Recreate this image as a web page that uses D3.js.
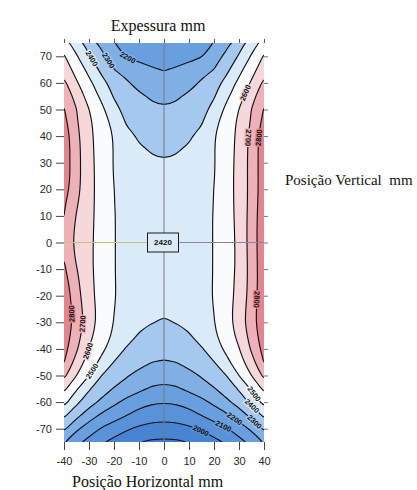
<!DOCTYPE html>
<html>
<head>
<meta charset="utf-8">
<script src="https://cdn.jsdelivr.net/npm/d3@7"></script>
<style>
  body { margin: 0; background: #ffffff; }
  svg { display: block; }
</style>
</head>
<body>
<svg id="chart" width="417" height="490"></svg>
<script>
// Sampling positions of the thickness map (mm)
const xValues = [-40, -35, -30, -25, -20, -15, -10, -5, 0, 5, 10, 15, 20, 25, 30, 35, 40];
const yValues = [75, 70, 65, 60, 55, 50, 45, 40, 35, 30, 25, 20, 15, 10, 5, 0,
                 -5, -10, -15, -20, -25, -30, -35, -40, -45, -50, -55, -60, -65, -70, -75];

// Thickness readings, one row per vertical position (top to bottom), left to right
const thicknessRows = [
  [2543,2449,2356,2271,2201,2160,2130,2115,2110,2115,2130,2160,2201,2271,2356,2449,2543],
  [2610,2510,2410,2325,2256,2195,2168,2155,2150,2155,2168,2195,2256,2325,2410,2510,2610],
  [2655,2564,2470,2377,2301,2271,2241,2212,2195,2212,2241,2271,2301,2377,2470,2564,2655],
  [2722,2611,2525,2430,2363,2311,2270,2245,2235,2245,2270,2311,2363,2430,2525,2611,2722],
  [2778,2662,2562,2480,2392,2354,2315,2290,2280,2290,2315,2354,2392,2480,2562,2662,2778],
  [2805,2701,2601,2523,2430,2370,2337,2315,2308,2315,2337,2370,2430,2523,2601,2701,2805],
  [2831,2712,2618,2547,2473,2393,2366,2350,2345,2350,2366,2393,2473,2547,2618,2712,2831],
  [2855,2726,2623,2554,2493,2427,2389,2376,2372,2376,2389,2427,2493,2554,2623,2726,2855],
  [2860,2733,2627,2556,2496,2452,2409,2395,2392,2395,2409,2452,2496,2556,2627,2733,2860],
  [2860,2733,2630,2557,2495,2455,2426,2409,2403,2409,2426,2455,2495,2557,2630,2733,2860],
  [2860,2733,2631,2559,2497,2459,2432,2415,2410,2415,2432,2459,2497,2559,2631,2733,2860],
  [2845,2728,2631,2560,2501,2462,2436,2419,2414,2419,2436,2462,2501,2560,2631,2732,2860],
  [2815,2712,2629,2560,2502,2465,2438,2422,2417,2422,2438,2465,2502,2560,2629,2735,2866],
  [2800,2695,2626,2561,2504,2466,2440,2424,2419,2424,2440,2466,2504,2561,2626,2740,2870],
  [2792,2680,2623,2560,2504,2467,2441,2425,2420,2425,2441,2467,2504,2560,2623,2745,2870],
  [2790,2670,2621,2559,2504,2467,2441,2425,2420,2425,2441,2467,2504,2559,2621,2745,2870],
  [2798,2684,2620,2559,2504,2467,2441,2425,2420,2425,2441,2467,2504,2559,2620,2742,2870],
  [2815,2705,2621,2559,2504,2466,2439,2423,2418,2423,2439,2466,2504,2559,2621,2738,2870],
  [2845,2722,2626,2560,2505,2465,2437,2421,2415,2421,2437,2465,2505,2560,2626,2738,2870],
  [2865,2736,2630,2561,2506,2464,2434,2417,2411,2417,2434,2464,2506,2561,2630,2742,2872],
  [2875,2751,2640,2563,2502,2459,2429,2411,2405,2411,2429,2459,2502,2563,2640,2751,2875],
  [2870,2759,2645,2560,2497,2450,2420,2402,2396,2402,2420,2450,2497,2560,2645,2759,2870],
  [2860,2739,2626,2548,2485,2435,2393,2376,2370,2376,2393,2435,2485,2548,2626,2739,2860],
  [2838,2713,2596,2522,2453,2392,2359,2340,2333,2340,2359,2392,2453,2522,2596,2713,2838],
  [2803,2662,2558,2475,2397,2365,2332,2301,2290,2301,2332,2365,2397,2475,2558,2662,2803],
  [2725,2601,2501,2401,2355,2309,2271,2248,2240,2248,2271,2309,2355,2401,2501,2601,2725],
  [2622,2511,2410,2347,2293,2257,2221,2188,2175,2188,2221,2257,2293,2347,2410,2511,2622],
  [2533,2422,2343,2278,2222,2171,2134,2112,2105,2112,2134,2171,2222,2278,2343,2422,2533],
  [2418,2327,2246,2183,2142,2101,2064,2042,2035,2042,2064,2101,2142,2183,2246,2327,2418],
  [2318,2218,2150,2092,2052,2012,1982,1965,1960,1965,1982,2012,2052,2092,2150,2218,2318],
  [2203,2129,2067,2011,1971,1936,1901,1885,1880,1885,1901,1936,1971,2011,2067,2129,2203]
];

// Contour levels and the fill of each band (below the first level, then one per level)
const levels = [1900, 2000, 2100, 2200, 2300, 2400, 2500, 2600, 2700, 2800];
const bandColors = ["#3c79ca", "#4984d2", "#5a92d9", "#6a9fdf", "#80afe6", "#a6c7ee",
                    "#dbeaf8", "#fafbfd", "#f6d8db", "#eeb1b7", "#e3858f"];

const xTicks = [-40, -30, -20, -10, 0, 10, 20, 30, 40];
const yTicks = [-70, -60, -50, -40, -30, -20, -10, 0, 10, 20, 30, 40, 50, 60, 70];

// Where the level labels sit along their isolines (approximate spot, mm)
const labelSpots = [
  { level: 2400, x: -30.4, y: 68.5 },
  { level: 2300, x: -24.3, y: 67.0 },
  { level: 2200, x: -14.2, y: 70.5 },
  { level: 2600, x: 34.6, y: 55.5 },
  { level: 2700, x: 33.6, y: 39.5 },
  { level: 2800, x: 37.4, y: 39.5 },
  { level: 2800, x: 37.6, y: -21.5 },
  { level: 2800, x: -37.8, y: -27.0 },
  { level: 2700, x: -32.6, y: -30.5 },
  { level: 2600, x: -30.6, y: -40.5 },
  { level: 2500, x: -28.6, y: -48.5 },
  { level: 2500, x: 36.8, y: -56.5 },
  { level: 2400, x: 35.4, y: -61.3 },
  { level: 2300, x: 37.4, y: -66.3 },
  { level: 2200, x: 28.8, y: -65.6 },
  { level: 2100, x: 24.2, y: -68.0 },
  { level: 2000, x: 15.0, y: -70.0 }
];

const svg = d3.select("#chart");
const x = d3.scaleLinear().domain([-40, 40]).range([64, 264]);
const y = d3.scaleLinear().domain([-75, 75]).range([442, 43]);

svg.append("defs").append("clipPath").attr("id", "plotClip")
  .append("rect")
  .attr("x", x(-40)).attr("y", y(75))
  .attr("width", x(40) - x(-40)).attr("height", y(-75) - y(75));

const plot = svg.append("g").attr("clip-path", "url(#plotClip)");

plot.append("rect")
  .attr("x", x(-40)).attr("y", y(75))
  .attr("width", x(40) - x(-40)).attr("height", y(-75) - y(75))
  .attr("fill", bandColors[0]);

// Isobands from the thickness grid
const n = xValues.length, m = yValues.length;
const grid = thicknessRows.flat();
const bands = d3.contours().size([n, m]).thresholds(levels)(grid);

// grid coordinates: sample i sits at i + 0.5
const gx = d3.scaleLinear().domain([0.5, n - 0.5]).range([x(xValues[0]), x(xValues[n - 1])]);
const gy = d3.scaleLinear().domain([0.5, m - 0.5]).range([y(yValues[0]), y(yValues[m - 1])]);
const ringLine = d3.line()
  .x(p => gx(p[0])).y(p => gy(p[1]))
  .curve(d3.curveBasisClosed);
const shapePath = c => c.coordinates
  .map(poly => poly.map(r => ringLine(r.slice(0, -1))).join(""))
  .join("");

plot.selectAll("path.band").data(bands).join("path")
  .attr("class", "band")
  .attr("d", shapePath)
  .attr("fill", (d, i) => bandColors[i + 1])
  .attr("fill-rule", "evenodd");

const isoLines = plot.selectAll("path.iso").data(bands).join("path")
  .attr("class", "iso")
  .attr("d", shapePath)
  .attr("fill", "none")
  .attr("stroke", "#101418")
  .attr("stroke-width", 1.15);

// Crosshair through the centre
const centreRow = yValues.indexOf(0), centreCol = xValues.indexOf(0);
const centreValue = thicknessRows[centreRow][centreCol];
const boxW = 31, boxH = 19;
plot.append("line")
  .attr("x1", x(0)).attr("x2", x(0)).attr("y1", y(75)).attr("y2", y(-75))
  .attr("stroke", "#6e7d8c").attr("stroke-width", 1);
plot.append("line")
  .attr("x1", x(-40)).attr("x2", x(0) - boxW / 2).attr("y1", y(0)).attr("y2", y(0))
  .attr("stroke", "#c8c27a").attr("stroke-width", 1);
plot.append("line")
  .attr("x1", x(0) + boxW / 2).attr("x2", x(40)).attr("y1", y(0)).attr("y2", y(0))
  .attr("stroke", "#7d8aa2").attr("stroke-width", 1);
plot.append("rect")
  .attr("x", x(0) - boxW / 2 - 1).attr("y", y(0) - boxH / 2)
  .attr("width", boxW).attr("height", boxH)
  .attr("fill", bandColors[6]).attr("stroke", "#1a1a1a").attr("stroke-width", 1);
plot.append("text")
  .attr("x", x(0) - 1).attr("y", y(0))
  .attr("dy", "0.36em")
  .attr("text-anchor", "middle")
  .attr("font-family", "Liberation Sans, Arial, sans-serif")
  .attr("font-size", 8).attr("font-weight", "bold")
  .attr("fill", "#111")
  .text(centreValue);

// Level labels, snapped onto their isoline and turned along it
const labelLayer = plot.append("g");
labelSpots.forEach(s => {
  const k = levels.indexOf(s.level);
  const node = isoLines.nodes()[k];
  const total = node.getTotalLength();
  const tx = x(s.x), ty = y(s.y);
  let best = 0, bestD = Infinity;
  for (let l = 0; l <= total; l += 1.5) {
    const p = node.getPointAtLength(l);
    const d = (p.x - tx) ** 2 + (p.y - ty) ** 2;
    if (d < bestD) { bestD = d; best = l; }
  }
  const p = node.getPointAtLength(best);
  const a = node.getPointAtLength(Math.max(0, best - 3));
  const b = node.getPointAtLength(Math.min(total, best + 3));
  let ang = Math.atan2(b.y - a.y, b.x - a.x) * 180 / Math.PI;
  if (ang > 95) ang -= 180;
  if (ang <= -95) ang += 180;
  labelLayer.append("text")
    .attr("transform", `translate(${p.x},${p.y}) rotate(${ang})`)
    .attr("dy", "0.35em")
    .attr("text-anchor", "middle")
    .attr("font-family", "Liberation Sans, Arial, sans-serif")
    .attr("font-size", 7.5).attr("font-weight", "bold")
    .attr("fill", "#111")
    .attr("stroke", bandColors[k + 1]).attr("stroke-width", 2.6)
    .attr("paint-order", "stroke")
    .text(s.level);
});

// Axes
const tickFont = sel => sel.selectAll("text")
  .attr("font-family", "Liberation Sans, Arial, sans-serif")
  .attr("font-size", 11).attr("fill", "#2a2a2a");

const leftAxis = svg.append("g").attr("transform", `translate(${x(-40)},0)`)
  .call(d3.axisLeft(y).tickValues(yTicks).tickSize(8).tickPadding(4).tickFormat(d => String(d)));
leftAxis.select(".domain").remove();
leftAxis.selectAll("line").attr("stroke", "#444");
tickFont(leftAxis);

const bottomAxis = svg.append("g").attr("transform", `translate(0,${y(-75)})`)
  .call(d3.axisBottom(x).tickValues(xTicks).tickSize(8).tickPadding(7).tickFormat(d => String(d)));
bottomAxis.select(".domain").remove();
bottomAxis.selectAll("line").attr("stroke", "#444");
tickFont(bottomAxis);

const topAxis = svg.append("g").attr("transform", `translate(0,${y(75)})`)
  .call(d3.axisTop(x).tickValues(xTicks).tickSize(4).tickFormat(""));
topAxis.select(".domain").remove();
topAxis.selectAll("line").attr("stroke", "#555");

const rightAxis = svg.append("g").attr("transform", `translate(${x(40)},0)`)
  .call(d3.axisRight(y).tickValues(yTicks).tickSize(4).tickFormat(""));
rightAxis.select(".domain").remove();
rightAxis.selectAll("line").attr("stroke", "#6a7480");

// Titles
const titleFont = "Liberation Serif, 'Times New Roman', serif";
svg.append("text").attr("x", 158).attr("y", 31)
  .attr("text-anchor", "middle").attr("font-family", titleFont)
  .attr("font-size", 16).attr("fill", "#111")
  .text("Expessura mm");
svg.append("text").attr("x", 285).attr("y", 185)
  .attr("font-family", titleFont).attr("font-size", 15).attr("fill", "#111")
  .style("white-space", "pre")
  .text("Posição Vertical  mm");
svg.append("text").attr("x", 72).attr("y", 487)
  .attr("font-family", titleFont).attr("font-size", 16).attr("fill", "#111")
  .text("Posição Horizontal mm");
</script>
</body>
</html>
